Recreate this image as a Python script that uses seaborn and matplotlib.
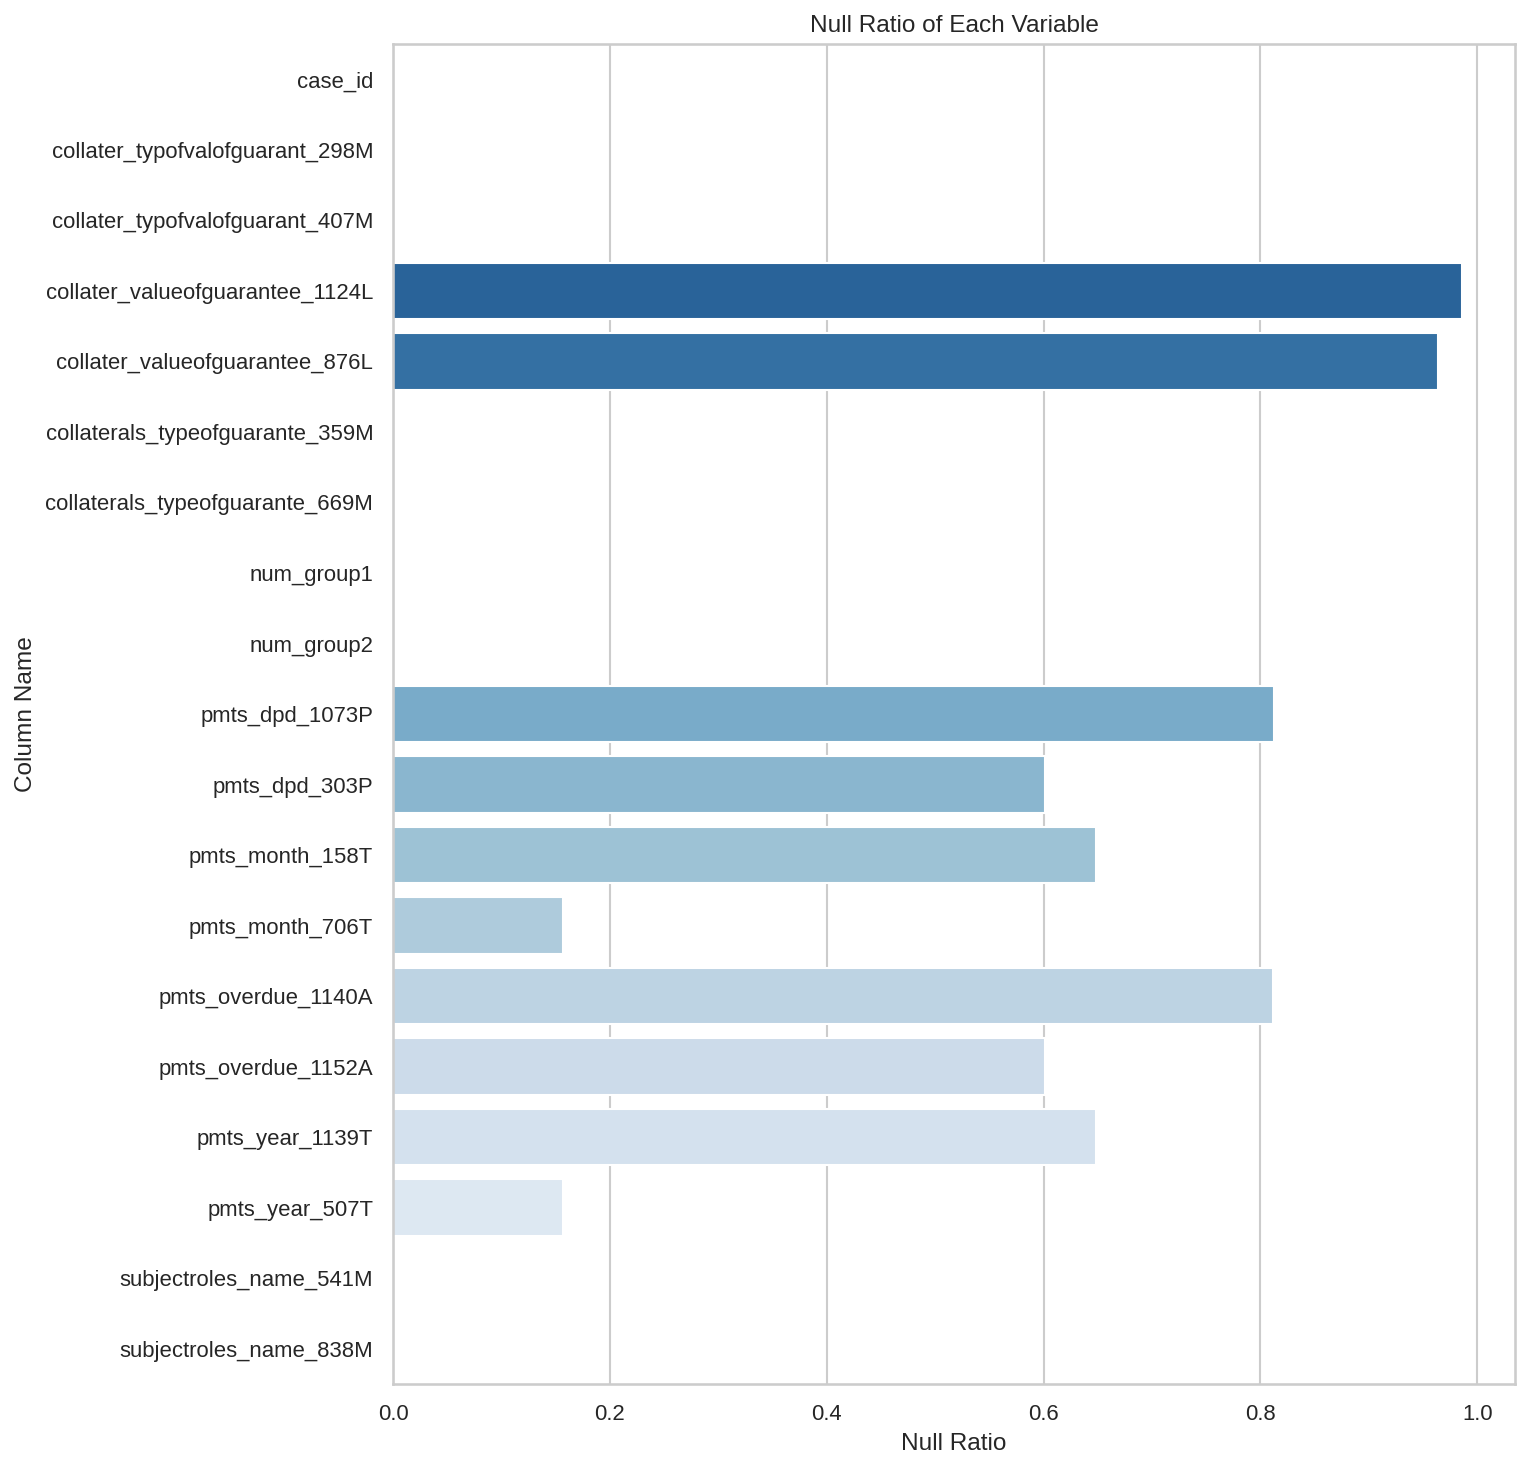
import numpy as np
import pandas as pd
import matplotlib
matplotlib.use('Agg')
import matplotlib.pyplot as plt
import seaborn as sns

# 컬럼별 결측치 비율
columns = [
    'case_id',
    'collater_typofvalofguarant_298M',
    'collater_typofvalofguarant_407M',
    'collater_valueofguarantee_1124L',
    'collater_valueofguarantee_876L',
    'collaterals_typeofguarante_359M',
    'collaterals_typeofguarante_669M',
    'num_group1',
    'num_group2',
    'pmts_dpd_1073P',
    'pmts_dpd_303P',
    'pmts_month_158T',
    'pmts_month_706T',
    'pmts_overdue_1140A',
    'pmts_overdue_1152A',
    'pmts_year_1139T',
    'pmts_year_507T',
    'subjectroles_name_541M',
    'subjectroles_name_838M',
]
null_ratio = [0.0, 0.0, 0.0, 0.9855, 0.9638, 0.0, 0.0, 0.0, 0.0,
              0.8129, 0.6016, 0.6486, 0.1567, 0.8113, 0.6016, 0.6486, 0.1567,
              0.0, 0.0]

df = pd.DataFrame({'Column Name': columns, 'Null Ratio': null_ratio})

sns.set_theme(style='whitegrid')
plt.rcParams['font.family'] = ['Liberation Sans', 'DejaVu Sans']

fig, ax = plt.subplots(figsize=(10.2, 9.787), dpi=150)
sns.barplot(data=df, x='Null Ratio', y='Column Name', hue='Column Name',
            palette='Blues_r', legend=False, ax=ax)
ax.set_title('Null Ratio of Each Variable', fontsize=11.7)
ax.set_xlabel('Null Ratio', fontsize=11.7)
ax.set_ylabel('Column Name', fontsize=11.7)
ax.tick_params(labelsize=10.6)
fig.subplots_adjust(left=0.2569, right=0.9902, top=0.970, bottom=0.0572)
fig.savefig('out.png', dpi=150)
